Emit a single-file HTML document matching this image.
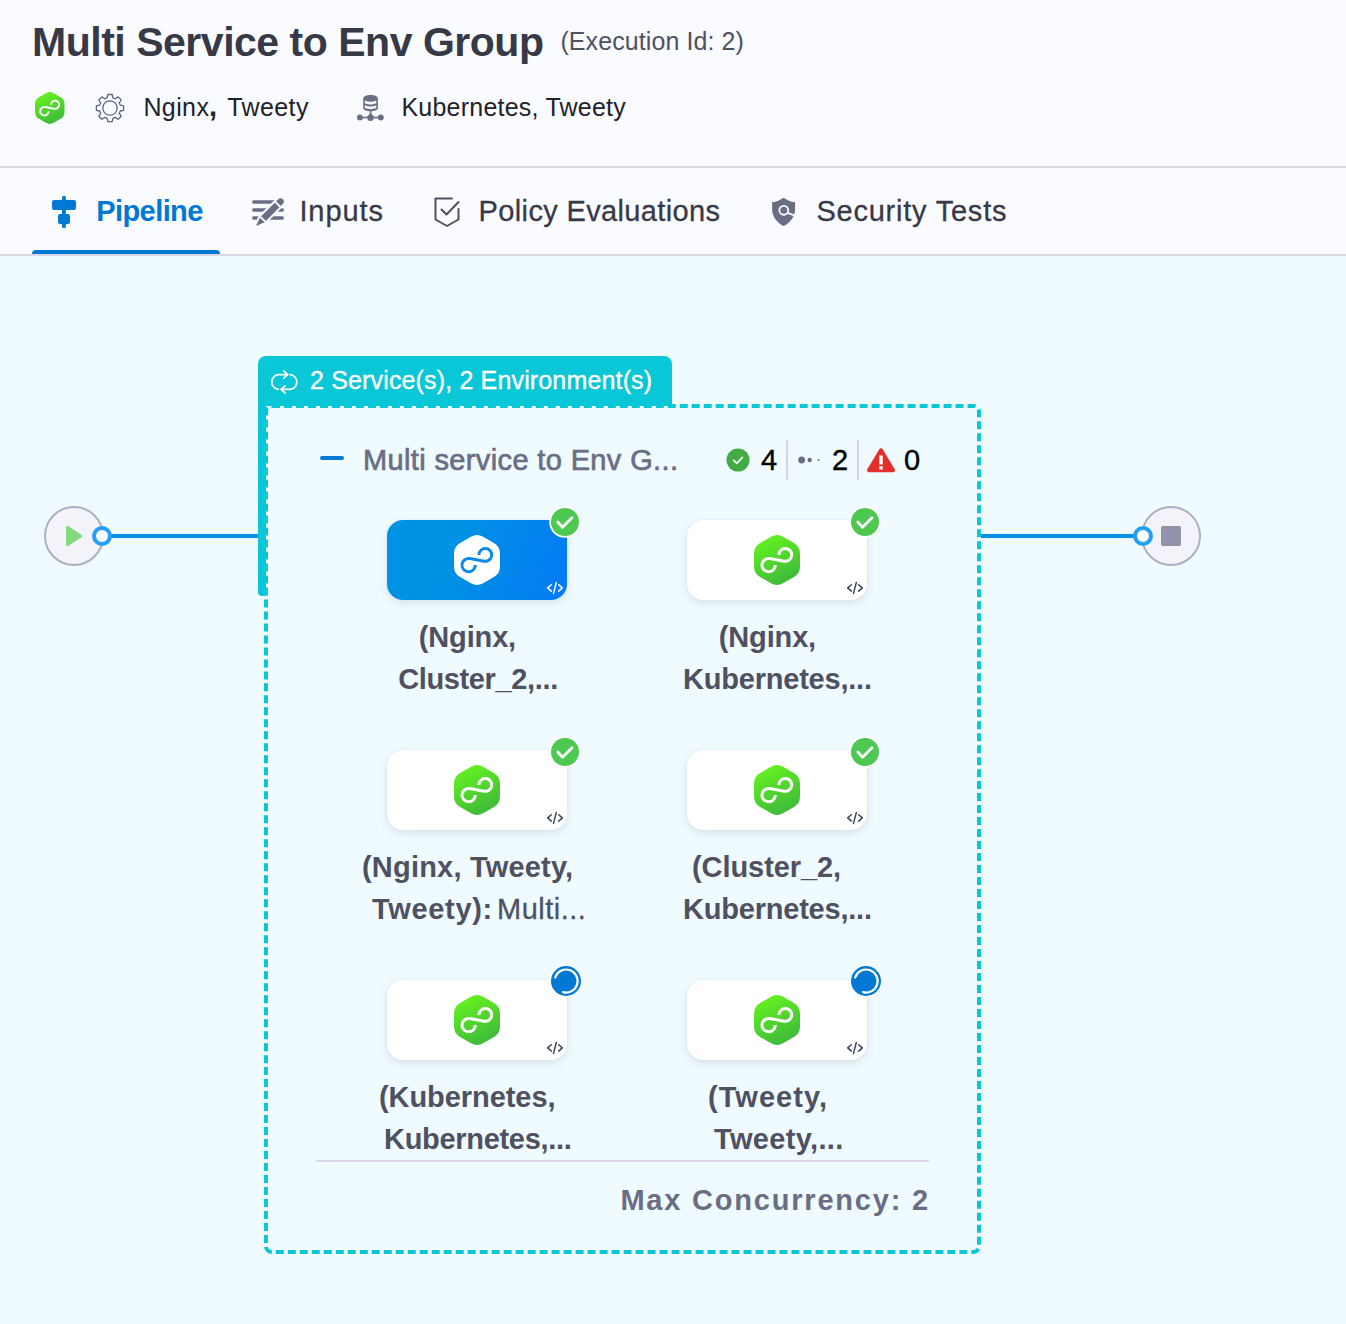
<!DOCTYPE html>
<html>
<head>
<meta charset="utf-8">
<title>Multi Service to Env Group</title>
<style>
*{box-sizing:border-box;margin:0;padding:0}
html,body{width:1346px;height:1324px;overflow:hidden;background:#effbff}
body{position:relative;font-family:"Liberation Sans",sans-serif;color:#22222a}
.abs{position:absolute}
.t{position:absolute;white-space:nowrap;line-height:1}
.node{position:absolute;width:180px;height:80px;border-radius:16px;background:#fff;box-shadow:0 3px 8px rgba(96,97,112,.16),0 0 2px rgba(40,41,61,.06)}
.node.sel{background:linear-gradient(110deg,#0092e4 35%,#0479f4 100%)}
</style>
</head>
<body>
<div class="abs" style="left:0;top:0;width:1346px;height:166px;background:#fafbff"></div>
<div class="abs" style="left:0;top:166px;width:1346px;height:2px;background:#d9dae5"></div>
<div class="abs" style="left:0;top:168px;width:1346px;height:86px;background:#fafbff"></div>
<div class="abs" style="left:0;top:254px;width:1346px;height:2px;background:#d9dae5"></div>
<div class="abs" style="left:32px;top:250px;width:188px;height:4px;background:#0278d5;border-radius:4px 4px 0 0"></div>
<svg class="abs" width="0" height="0" style="left:0;top:0"><defs><linearGradient id="gg" x1="0.25" y1="0" x2="0.7" y2="1"><stop offset="0" stop-color="#66f41f"/><stop offset="1" stop-color="#3db73c"/></linearGradient></defs></svg>
<svg class="abs" style="left:35.2px;top:92px" width="29.5" height="32" viewBox="0 0 46 50"><path d="M16.93 1.78Q23.00 -1.70 29.07 1.78L39.93 8.02Q46.00 11.50 46.00 18.50L46.00 31.50Q46.00 38.50 39.93 41.98L29.07 48.22Q23.00 51.70 16.93 48.22L6.07 41.98Q0.00 38.50 0.00 31.50L0.00 18.50Q0.00 11.50 6.07 8.02Z" fill="url(#gg)"/><path d="M24.90 19.90 A6.40 6.40 0 1 1 30.12 26.19 L15.90 23.52 A6.70 6.70 0 1 0 21.36 30.10" fill="none" stroke="#fff" stroke-width="3"/></svg>
<svg class="abs" style="left:95px;top:93px" width="30" height="30" viewBox="0 0 30 30" fill="none" stroke="#62647c" stroke-width="1.300" stroke-linejoin="round">
 <circle cx="15" cy="15" r="7.200"/>
 <path d="M12.800 1.500h4.400l.7 3.300 2.300 1 2.900-1.900 3.100 3.100-1.900 2.900 1 2.300 3.300.7v4.400l-3.300.7-1 2.300 1.900 2.900-3.100 3.100-2.900-1.900-2.300 1-.7 3.300h-4.400l-.7-3.300-2.300-1-2.900 1.900-3.100-3.100 1.900-2.900-1-2.300-3.300-.7v-4.400l3.300-.7 1-2.300-1.900-2.900 3.100-3.100 2.900 1.900 2.300-1z"/>
</svg>
<svg class="abs" style="left:356px;top:94px" width="28" height="28" viewBox="0 0 28 28" fill="#6b6d85">
 <path d="M7.200 4.500C7.200 2.500 10.500 1 14.550 1S21.900 2.500 21.900 4.500V14C21.900 16 18.600 17.200 14.550 17.200S7.200 16 7.200 14Z"/>
 <path d="M8.800 6.500Q14.550 9 20.300 6.500V9.200Q14.550 11.600 8.800 9.200Z" fill="#fafbff"/>
 <path d="M8.800 11.300Q14.550 13.800 20.300 11.300V14Q14.550 16.300 8.800 14Z" fill="#fafbff"/>
 <path d="M13.800 17V18.500Q13.800 21.500 11 22.700H18.100Q15.300 21.500 15.300 18.500V17Z"/>
 <rect x="3.900" y="22.700" width="20.900" height="1.600"/>
 <circle cx="3.900" cy="23.500" r="2.900"/><circle cx="14.550" cy="23.700" r="3.200"/><circle cx="24.800" cy="23.500" r="2.900"/>
</svg>
<svg class="abs" style="left:51px;top:195px" width="26" height="34" viewBox="0 0 26 34" fill="#0278d5">
 <rect x="11" y="0.800" width="3.900" height="32.300" rx="1.950"/>
 <rect x="1" y="4.900" width="24" height="10" rx="2.200"/>
 <rect x="7" y="19" width="12" height="10" rx="2.200"/>
</svg>
<svg class="abs" style="left:250px;top:195px" width="36" height="34" viewBox="0 0 36 34">
 <path d="M3.800 7H26M3.800 15H17M24 15h8.200M3.800 23H9M17 23h15.200" fill="none" stroke="#6b6d85" stroke-width="3.600" stroke-linecap="round"/>
 <path d="M28.270 4.170A3.300 3.300 0 0 1 32.930 8.830L14.630 27.130L6.100 31L9.970 22.470Z" fill="#6b6d85" stroke="#fafbff" stroke-width="4" stroke-linejoin="round" paint-order="stroke"/>
 <path d="M25.100 6.600L30.500 12M10.150 21.550L15.550 26.950" stroke="#fafbff" stroke-width="1.900"/>
</svg>
<svg class="abs" style="left:433px;top:196px" width="28" height="32" viewBox="0 0 28 32" fill="none" stroke="#4f5162" stroke-width="2" stroke-linejoin="round" stroke-linecap="round">
 <path d="M19 2.500H2.500v21L14 30l11.500-6.500V13"/>
 <path d="M8.500 13.500l5 5L25.500 6"/>
</svg>
<svg class="abs" style="left:771px;top:196px" width="26" height="32" viewBox="0 0 26 32">
 <path d="M12.600 1.800C15.500 4 20 5.800 24.100 6.300V13C24.100 20.500 19.500 26.500 12.600 30.100C5.700 26.500 1.100 20.500 1.100 13V6.300C5.200 5.800 9.700 4 12.600 1.800Z" fill="#6b6d85"/>
 <circle cx="12.800" cy="14.300" r="4.450" fill="none" stroke="#fafbff" stroke-width="1.800"/>
 <path d="M16.600 16.900L24 19.600" stroke="#fafbff" stroke-width="2" fill="none"/>
</svg>
<div class="abs" style="left:110px;top:534px;width:150px;height:4px;background:#0092e4"></div>
<div class="abs" style="left:980px;top:534px;width:156px;height:4px;background:#0092e4"></div>
<div class="abs" style="left:44px;top:506px;width:60px;height:60px;border-radius:50%;background:#f3f3fa;border:2px solid #aeafc4"></div>
<svg class="abs" style="left:64px;top:524px" width="20" height="24" viewBox="0 0 20 24"><path d="M2 3.200v17.600a1.500 1.500 0 0 0 2.300 1.200l13.200-8.800a1.500 1.500 0 0 0 0-2.400l-13.200-8.800A1.500 1.500 0 0 0 2 3.200z" fill="#86d981"/></svg>
<div class="abs" style="left:1141px;top:506px;width:60px;height:60px;border-radius:50%;background:#f3f3fa;border:2px solid #aeafc4"></div>
<div class="abs" style="left:1161px;top:526px;width:20px;height:20px;border-radius:2px;background:#9293ab"></div>
<div class="abs" style="left:92px;top:526px;width:20px;height:20px;border-radius:50%;background:#fff;border:4px solid #25a0f6"></div>
<div class="abs" style="left:1133px;top:526px;width:20px;height:20px;border-radius:50%;background:#fff;border:4px solid #25a0f6"></div>
<div class="abs" style="left:264px;top:404px;width:717px;height:850px;border:4px dashed #09c7d6;border-radius:8px;background:#effbff"></div>
<div class="abs" style="left:258px;top:356px;width:414px;height:50px;background:#09c7d6;border-radius:8px 8px 0 0"></div>
<div class="abs" style="left:258px;top:400px;width:8px;height:196px;background:#09c7d6;border-radius:0 0 0 4px"></div>
<svg class="abs" style="left:269px;top:369px" width="30" height="26" viewBox="0 0 30 26" fill="none" stroke="#fff" stroke-width="1.700" stroke-linecap="round" stroke-linejoin="round">
 <path d="M9.300 20.350A7.400 7.400 0 0 1 10.100 5.600H18.500"/><path d="M21.300 5.650A7.400 7.400 0 0 1 20.500 20.400H12.300"/>
 <path d="M14.700 2L18.700 5.600l-4 3.600"/><path d="M16.100 16.800L12.100 20.400l4 3.600"/>
</svg>
<div class="abs" style="left:320px;top:456px;width:24px;height:4px;border-radius:2px;background:#0278d5"></div>
<svg class="abs" style="left:726px;top:448px" width="24" height="24" viewBox="0 0 24 24"><circle cx="12" cy="12" r="11.500" fill="#42ab45"/><path d="M7.800 12.300l3 3 5.600-5.800" fill="none" stroke="#fff" stroke-width="1.700" stroke-linecap="round" stroke-linejoin="round"/></svg>
<div class="abs" style="left:786px;top:440px;width:2px;height:40px;background:#d4d5e3"></div>
<svg class="abs" style="left:797px;top:455px" width="24" height="10" viewBox="0 0 24 10" fill="#6b6d85"><circle cx="4.600" cy="5" r="3.400"/><circle cx="12.700" cy="5" r="2.200"/><circle cx="21.500" cy="5" r="1"/></svg>
<div class="abs" style="left:857px;top:440px;width:2px;height:40px;background:#d4d5e3"></div>
<svg class="abs" style="left:866px;top:447px" width="30" height="26" viewBox="0 0 30 26"><path d="M13.300 2.200a2 2 0 0 1 3.400 0l12 20a2 2 0 0 1-1.700 3H3a2 2 0 0 1-1.700-3z" fill="#e3302a"/><rect x="13.300" y="8.500" width="3.400" height="9" fill="#fff"/><rect x="13.300" y="19.300" width="3.400" height="3.200" fill="#fff"/></svg>
<div class="node sel" style="left:387px;top:520px"></div>
<svg class="abs" style="left:454px;top:535px" width="46" height="50" viewBox="0 0 46 50"><path d="M16.93 1.78Q23.00 -1.70 29.07 1.78L39.93 8.02Q46.00 11.50 46.00 18.50L46.00 31.50Q46.00 38.50 39.93 41.98L29.07 48.22Q23.00 51.70 16.93 48.22L6.07 41.98Q0.00 38.50 0.00 31.50L0.00 18.50Q0.00 11.50 6.07 8.02Z" fill="#fff"/><path d="M24.90 19.90 A6.40 6.40 0 1 1 30.12 26.19 L15.90 23.52 A6.70 6.70 0 1 0 21.36 30.10" fill="none" stroke="#0b8ce9" stroke-width="3"/></svg>
<svg class="abs" style="left:546px;top:581px" width="18" height="14" viewBox="0 0 18 14" fill="none" stroke="#fff" stroke-width="1.500" stroke-linecap="round" stroke-linejoin="round"><path d="M5.300 3.700L1.700 6.900l3.600 3.200M12.700 3.700L16.300 6.900l-3.600 3.200M10.300 1.600L7.500 12.400"/></svg>
<svg class="abs" style="left:549px;top:506px" width="32" height="32" viewBox="0 0 32 32"><circle cx="16" cy="16" r="15.800" fill="#fff"/><circle cx="16" cy="16" r="14" fill="#4dc952"/><path d="M8.800 16L13.500 21.200L23 11.800" fill="none" stroke="#fff" stroke-width="2.800" stroke-linecap="round" stroke-linejoin="round"/></svg>
<div class="node" style="left:687px;top:520px"></div>
<svg class="abs" style="left:754px;top:535px" width="46" height="50" viewBox="0 0 46 50"><path d="M16.93 1.78Q23.00 -1.70 29.07 1.78L39.93 8.02Q46.00 11.50 46.00 18.50L46.00 31.50Q46.00 38.50 39.93 41.98L29.07 48.22Q23.00 51.70 16.93 48.22L6.07 41.98Q0.00 38.50 0.00 31.50L0.00 18.50Q0.00 11.50 6.07 8.02Z" fill="url(#gg)"/><path d="M24.90 19.90 A6.40 6.40 0 1 1 30.12 26.19 L15.90 23.52 A6.70 6.70 0 1 0 21.36 30.10" fill="none" stroke="#fff" stroke-width="3"/></svg>
<svg class="abs" style="left:846px;top:581px" width="18" height="14" viewBox="0 0 18 14" fill="none" stroke="#3c4558" stroke-width="1.500" stroke-linecap="round" stroke-linejoin="round"><path d="M5.300 3.700L1.700 6.900l3.600 3.200M12.700 3.700L16.300 6.900l-3.600 3.200M10.300 1.600L7.500 12.400"/></svg>
<svg class="abs" style="left:849px;top:506px" width="32" height="32" viewBox="0 0 32 32"><circle cx="16" cy="16" r="15.800" fill="#fff"/><circle cx="16" cy="16" r="14" fill="#4dc952"/><path d="M8.800 16L13.500 21.200L23 11.800" fill="none" stroke="#fff" stroke-width="2.800" stroke-linecap="round" stroke-linejoin="round"/></svg>
<div class="node" style="left:387px;top:750px"></div>
<svg class="abs" style="left:454px;top:765px" width="46" height="50" viewBox="0 0 46 50"><path d="M16.93 1.78Q23.00 -1.70 29.07 1.78L39.93 8.02Q46.00 11.50 46.00 18.50L46.00 31.50Q46.00 38.50 39.93 41.98L29.07 48.22Q23.00 51.70 16.93 48.22L6.07 41.98Q0.00 38.50 0.00 31.50L0.00 18.50Q0.00 11.50 6.07 8.02Z" fill="url(#gg)"/><path d="M24.90 19.90 A6.40 6.40 0 1 1 30.12 26.19 L15.90 23.52 A6.70 6.70 0 1 0 21.36 30.10" fill="none" stroke="#fff" stroke-width="3"/></svg>
<svg class="abs" style="left:546px;top:811px" width="18" height="14" viewBox="0 0 18 14" fill="none" stroke="#3c4558" stroke-width="1.500" stroke-linecap="round" stroke-linejoin="round"><path d="M5.300 3.700L1.700 6.900l3.600 3.200M12.700 3.700L16.300 6.900l-3.600 3.200M10.300 1.600L7.500 12.400"/></svg>
<svg class="abs" style="left:549px;top:736px" width="32" height="32" viewBox="0 0 32 32"><circle cx="16" cy="16" r="15.800" fill="#fff"/><circle cx="16" cy="16" r="14" fill="#4dc952"/><path d="M8.800 16L13.500 21.200L23 11.800" fill="none" stroke="#fff" stroke-width="2.800" stroke-linecap="round" stroke-linejoin="round"/></svg>
<div class="node" style="left:687px;top:750px"></div>
<svg class="abs" style="left:754px;top:765px" width="46" height="50" viewBox="0 0 46 50"><path d="M16.93 1.78Q23.00 -1.70 29.07 1.78L39.93 8.02Q46.00 11.50 46.00 18.50L46.00 31.50Q46.00 38.50 39.93 41.98L29.07 48.22Q23.00 51.70 16.93 48.22L6.07 41.98Q0.00 38.50 0.00 31.50L0.00 18.50Q0.00 11.50 6.07 8.02Z" fill="url(#gg)"/><path d="M24.90 19.90 A6.40 6.40 0 1 1 30.12 26.19 L15.90 23.52 A6.70 6.70 0 1 0 21.36 30.10" fill="none" stroke="#fff" stroke-width="3"/></svg>
<svg class="abs" style="left:846px;top:811px" width="18" height="14" viewBox="0 0 18 14" fill="none" stroke="#3c4558" stroke-width="1.500" stroke-linecap="round" stroke-linejoin="round"><path d="M5.300 3.700L1.700 6.900l3.600 3.200M12.700 3.700L16.300 6.900l-3.600 3.200M10.300 1.600L7.500 12.400"/></svg>
<svg class="abs" style="left:849px;top:736px" width="32" height="32" viewBox="0 0 32 32"><circle cx="16" cy="16" r="15.800" fill="#fff"/><circle cx="16" cy="16" r="14" fill="#4dc952"/><path d="M8.800 16L13.500 21.200L23 11.800" fill="none" stroke="#fff" stroke-width="2.800" stroke-linecap="round" stroke-linejoin="round"/></svg>
<div class="node" style="left:387px;top:980px"></div>
<svg class="abs" style="left:454px;top:995px" width="46" height="50" viewBox="0 0 46 50"><path d="M16.93 1.78Q23.00 -1.70 29.07 1.78L39.93 8.02Q46.00 11.50 46.00 18.50L46.00 31.50Q46.00 38.50 39.93 41.98L29.07 48.22Q23.00 51.70 16.93 48.22L6.07 41.98Q0.00 38.50 0.00 31.50L0.00 18.50Q0.00 11.50 6.07 8.02Z" fill="url(#gg)"/><path d="M24.90 19.90 A6.40 6.40 0 1 1 30.12 26.19 L15.90 23.52 A6.70 6.70 0 1 0 21.36 30.10" fill="none" stroke="#fff" stroke-width="3"/></svg>
<svg class="abs" style="left:546px;top:1041px" width="18" height="14" viewBox="0 0 18 14" fill="none" stroke="#3c4558" stroke-width="1.500" stroke-linecap="round" stroke-linejoin="round"><path d="M5.300 3.700L1.700 6.900l3.600 3.200M12.700 3.700L16.300 6.900l-3.600 3.200M10.300 1.600L7.500 12.400"/></svg>
<svg class="abs" style="left:549px;top:964px" width="34" height="34" viewBox="0 0 34 34"><circle cx="17" cy="17" r="16" fill="#fff"/><circle cx="17" cy="17" r="15" fill="#0278d5"/><path d="M6.200 13.500A11.500 11.500 0 1 1 14 28.100" fill="none" stroke="#fff" stroke-width="2.200" stroke-linecap="round"/></svg>
<div class="node" style="left:687px;top:980px"></div>
<svg class="abs" style="left:754px;top:995px" width="46" height="50" viewBox="0 0 46 50"><path d="M16.93 1.78Q23.00 -1.70 29.07 1.78L39.93 8.02Q46.00 11.50 46.00 18.50L46.00 31.50Q46.00 38.50 39.93 41.98L29.07 48.22Q23.00 51.70 16.93 48.22L6.07 41.98Q0.00 38.50 0.00 31.50L0.00 18.50Q0.00 11.50 6.07 8.02Z" fill="url(#gg)"/><path d="M24.90 19.90 A6.40 6.40 0 1 1 30.12 26.19 L15.90 23.52 A6.70 6.70 0 1 0 21.36 30.10" fill="none" stroke="#fff" stroke-width="3"/></svg>
<svg class="abs" style="left:846px;top:1041px" width="18" height="14" viewBox="0 0 18 14" fill="none" stroke="#3c4558" stroke-width="1.500" stroke-linecap="round" stroke-linejoin="round"><path d="M5.300 3.700L1.700 6.900l3.600 3.200M12.700 3.700L16.300 6.900l-3.600 3.200M10.300 1.600L7.500 12.400"/></svg>
<svg class="abs" style="left:849px;top:964px" width="34" height="34" viewBox="0 0 34 34"><circle cx="17" cy="17" r="16" fill="#fff"/><circle cx="17" cy="17" r="15" fill="#0278d5"/><path d="M6.200 13.500A11.500 11.500 0 1 1 14 28.100" fill="none" stroke="#fff" stroke-width="2.200" stroke-linecap="round"/></svg>
<div class="abs" style="left:316px;top:1160px;width:613px;height:2px;background:#d9dae5"></div>
<span class="t" id="title" style="left:32.00px;top:21.75px;font-size:41px;font-weight:700;color:#383946;letter-spacing:-0.480px;">Multi Service to Env Group</span>
<span class="t" id="execid" style="left:560.40px;top:28.75px;font-size:25px;font-weight:400;color:#4f5162;letter-spacing:0.094px;">(Execution Id: 2)</span>
<span class="t" id="svc1" style="left:143.40px;top:94.75px;font-size:25px;font-weight:400;color:#22222a;letter-spacing:0.400px;">Nginx</span>
<span class="t" id="svc2" style="left:209.00px;top:91.75px;font-size:29px;font-weight:700;color:#22222a;letter-spacing:0.000px;">,</span>
<span class="t" id="svc3" style="left:227.20px;top:94.75px;font-size:25px;font-weight:400;color:#22222a;letter-spacing:0.400px;">Tweety</span>
<span class="t" id="env" style="left:401.40px;top:94.75px;font-size:25px;font-weight:400;color:#22222a;letter-spacing:0.229px;">Kubernetes, Tweety</span>
<span class="t" id="tab1" style="left:96.20px;top:196.75px;font-size:29px;font-weight:700;color:#0278d5;letter-spacing:-0.571px;">Pipeline</span>
<span class="t" id="tab2" style="left:299.40px;top:196.75px;font-size:29px;font-weight:400;color:#383946;letter-spacing:0.900px;-webkit-text-stroke:0.3px #383946;">Inputs</span>
<span class="t" id="tab3" style="left:478.60px;top:196.75px;font-size:29px;font-weight:400;color:#383946;letter-spacing:0.359px;-webkit-text-stroke:0.3px #383946;">Policy Evaluations</span>
<span class="t" id="tab4" style="left:816.40px;top:196.75px;font-size:29px;font-weight:400;color:#383946;letter-spacing:0.777px;-webkit-text-stroke:0.3px #383946;">Security Tests</span>
<span class="t" id="mlabel" style="left:310.00px;top:367.75px;font-size:25px;font-weight:400;color:#fff;letter-spacing:0.155px;-webkit-text-stroke:0.35px #fff;">2 Service(s), 2 Environment(s)</span>
<span class="t" id="sname" style="left:363.00px;top:445.75px;font-size:29px;font-weight:400;color:#6b6d85;letter-spacing:0.365px;-webkit-text-stroke:0.7px #6b6d85;">Multi service to Env G...</span>
<span class="t" id="n4" style="left:761.00px;top:445.75px;font-size:29px;font-weight:400;color:#000;letter-spacing:0.000px;-webkit-text-stroke:0.4px #000;">4</span>
<span class="t" id="n2" style="left:832.00px;top:445.75px;font-size:29px;font-weight:400;color:#000;letter-spacing:0.000px;-webkit-text-stroke:0.4px #000;">2</span>
<span class="t" id="n0" style="left:904.00px;top:445.75px;font-size:29px;font-weight:400;color:#000;letter-spacing:0.000px;-webkit-text-stroke:0.4px #000;">0</span>
<span class="t" id="a1" style="left:418.80px;top:622.75px;font-size:29px;font-weight:700;color:#4f5162;letter-spacing:-0.150px;">(Nginx,</span>
<span class="t" id="a2" style="left:398.20px;top:664.75px;font-size:29px;font-weight:700;color:#4f5162;letter-spacing:-0.367px;">Cluster_2,...</span>
<span class="t" id="b1" style="left:718.80px;top:622.75px;font-size:29px;font-weight:700;color:#4f5162;letter-spacing:-0.150px;">(Nginx,</span>
<span class="t" id="b2" style="left:683.00px;top:664.75px;font-size:29px;font-weight:700;color:#4f5162;letter-spacing:-0.212px;">Kubernetes,...</span>
<span class="t" id="c1" style="left:362.00px;top:852.75px;font-size:29px;font-weight:700;color:#4f5162;letter-spacing:0.196px;">(Nginx, Tweety,</span>
<span class="t" id="c2" style="left:372.00px;top:894.75px;font-size:29px;font-weight:700;color:#4f5162;letter-spacing:0.679px;">Tweety):</span>
<span class="t" id="c3" style="left:497.00px;top:894.75px;font-size:29px;font-weight:400;color:#4f5162;letter-spacing:0.500px;-webkit-text-stroke:0.3px #4f5162;">Multi...</span>
<span class="t" id="d1" style="left:692.00px;top:852.75px;font-size:29px;font-weight:700;color:#4f5162;letter-spacing:-0.075px;">(Cluster_2,</span>
<span class="t" id="d2" style="left:683.00px;top:894.75px;font-size:29px;font-weight:700;color:#4f5162;letter-spacing:-0.212px;">Kubernetes,...</span>
<span class="t" id="e1" style="left:379.00px;top:1082.75px;font-size:29px;font-weight:700;color:#4f5162;letter-spacing:-0.068px;">(Kubernetes,</span>
<span class="t" id="e2" style="left:384.00px;top:1124.75px;font-size:29px;font-weight:700;color:#4f5162;letter-spacing:-0.308px;">Kubernetes,...</span>
<span class="t" id="f1" style="left:708.00px;top:1082.75px;font-size:29px;font-weight:700;color:#4f5162;letter-spacing:1.036px;">(Tweety,</span>
<span class="t" id="f2" style="left:714.00px;top:1124.75px;font-size:29px;font-weight:700;color:#4f5162;letter-spacing:0.333px;">Tweety,...</span>
<span class="t" id="maxc" style="left:620.40px;top:1185.75px;font-size:29px;font-weight:700;color:#6b6d85;letter-spacing:1.794px;">Max Concurrency: 2</span>
</body>
</html>
